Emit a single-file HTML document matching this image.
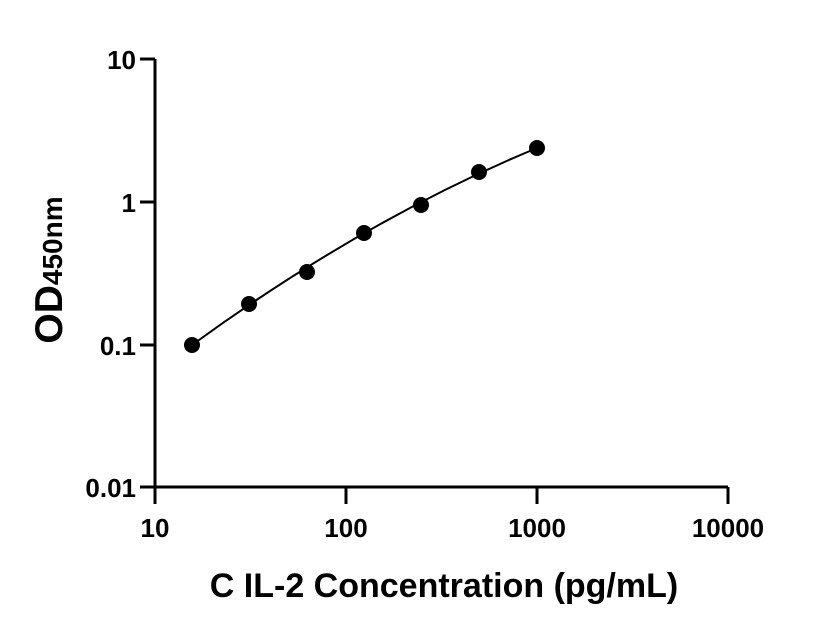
<!DOCTYPE html>
<html><head><style>body{margin:0;background:#fff}svg{display:block}</style></head><body>
<svg width="816" height="640" xmlns="http://www.w3.org/2000/svg" font-family="Liberation Sans, Arial, sans-serif" font-weight="bold">
<rect width="816" height="640" fill="#fff"/>
<g stroke="#000" stroke-width="3" fill="none">
<path d="M155,59 V487 H728"/>
<path d="M140,59 H155 M140,202 H155 M140,345 H155 M140,487 H155"/>
<path d="M155,487 V504 M346,487 V504 M537,487 V504 M728,487 V504"/>
</g>
<g font-size="26" text-anchor="end">
<text x="136" y="69">10</text>
<text x="136" y="212">1</text>
<text x="136" y="355">0.1</text>
<text x="136" y="497">0.01</text>
</g>
<g font-size="26" text-anchor="middle">
<text x="155" y="537">10</text>
<text x="346" y="537">100</text>
<text x="537" y="537">1000</text>
<text x="728" y="537">10000</text>
</g>
<text x="444" y="597" font-size="34" text-anchor="middle">C IL-2 Concentration (pg/mL)</text>
<text transform="translate(62,270) rotate(-90)" text-anchor="middle" font-size="39">OD<tspan font-size="28">450nm</tspan></text>
<path d="M192,345 Q364.5,219.5 537,148" stroke="#000" stroke-width="2" fill="none"/>
<g fill="#000">
<circle cx="192" cy="345" r="8"/><circle cx="249" cy="304" r="8"/><circle cx="307" cy="272" r="8"/><circle cx="364" cy="233" r="8"/><circle cx="421" cy="205" r="8"/><circle cx="479" cy="172" r="8"/><circle cx="537" cy="148" r="8"/>
</g>
</svg>
</body></html>
